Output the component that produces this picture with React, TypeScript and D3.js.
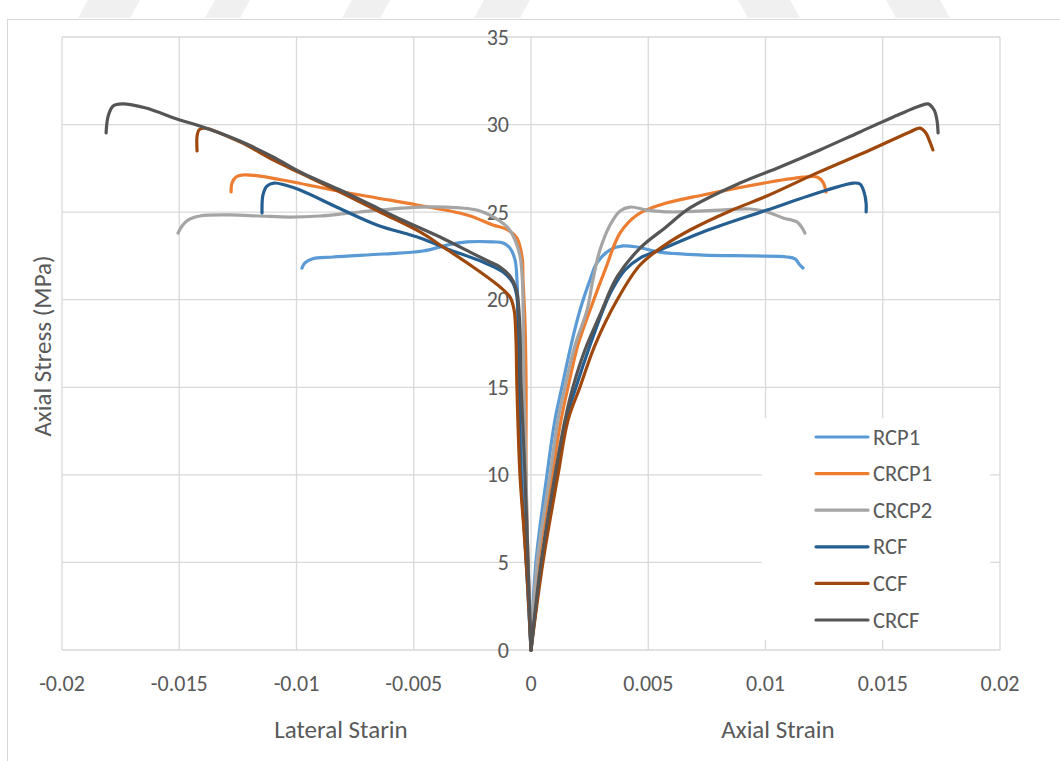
import React from "react";
import * as d3 from "d3";

type P = [number, number];

// [strain, stress MPa]
const RCP1_lateral: P[] = [[0,0],[-0.00021,5.14],[-0.00038,9.99],[-0.00051,15.02],[-0.00055,19.24],[-0.0006,21.13],[-0.00068,22.27],[-0.0009,22.95],[-0.00119,23.24],[-0.00162,23.3],[-0.00273,23.3],[-0.00358,23.12],[-0.00461,22.78],[-0.00631,22.61],[-0.00844,22.44],[-0.00934,22.33],[-0.00964,22.1],[-0.00977,21.81]];
const RCP1_axial: P[] = [[0,0],[0.00021,5.02],[0.00068,9.99],[0.00102,13.13],[0.00132,15.02],[0.00171,17.41],[0.00209,19.41],[0.00252,21.13],[0.00281,22.1],[0.00337,22.84],[0.00392,23.07],[0.00452,23.01],[0.0055,22.72],[0.00733,22.55],[0.00947,22.5],[0.01092,22.44],[0.01126,22.33],[0.01147,21.98],[0.0116,21.81]];

const CRCP1_lateral: P[] = [[0,0],[-0.00013,5.14],[-0.00021,9.99],[-0.00021,15.02],[-0.00026,18.84],[-0.00034,21.13],[-0.00038,22.44],[-0.0006,23.52],[-0.00098,23.98],[-0.00162,24.27],[-0.00273,24.84],[-0.00486,25.41],[-0.00657,25.81],[-0.00802,26.15],[-0.01015,26.72],[-0.01156,27.06],[-0.01228,27.12],[-0.01258,27.01],[-0.01275,26.66],[-0.01279,26.15]];
const CRCP1_axial: P[] = [[0,0],[0.0003,5.02],[0.0009,9.99],[0.00128,13.13],[0.00158,15.02],[0.002,17.41],[0.00252,19.41],[0.00316,21.7],[0.0038,23.81],[0.00452,24.84],[0.0055,25.41],[0.00733,25.98],[0.01019,26.72],[0.01177,27.01],[0.0122,27.01],[0.01245,26.72],[0.01258,26.15]];

const CRCP2_lateral: P[] = [[0,0],[-0.00013,5.14],[-0.00021,9.99],[-0.0003,15.02],[-0.00034,19.98],[-0.00038,21.41],[-0.00047,22.5],[-0.00068,23.41],[-0.00098,24.1],[-0.00154,24.67],[-0.00217,25.07],[-0.00303,25.24],[-0.00473,25.29],[-0.00644,25.12],[-0.00772,24.95],[-0.009,24.78],[-0.01028,24.72],[-0.01156,24.78],[-0.01284,24.84],[-0.01412,24.78],[-0.01463,24.55],[-0.01488,24.21],[-0.01505,23.81]];
const CRCP2_axial: P[] = [[0,0],[0.00026,5.02],[0.00081,9.99],[0.00115,13.13],[0.00145,15.02],[0.00188,17.41],[0.00239,19.41],[0.00264,21.13],[0.00294,22.84],[0.00337,24.27],[0.0038,25.07],[0.00422,25.29],[0.00495,25.12],[0.00593,25.01],[0.00806,25.12],[0.00934,25.18],[0.01006,25.01],[0.01075,24.67],[0.01134,24.44],[0.01156,24.1],[0.01168,23.81]];

const RCF_lateral: P[] = [[0,0],[-0.00013,3.43],[-0.00026,6.28],[-0.00043,9.99],[-0.00051,15.02],[-0.00055,18.27],[-0.0006,20.16],[-0.00077,20.95],[-0.00119,21.58],[-0.00205,22.15],[-0.00345,22.84],[-0.00473,23.52],[-0.00657,24.27],[-0.00802,25.12],[-0.00985,26.26],[-0.01049,26.55],[-0.01096,26.66],[-0.01126,26.49],[-0.01143,25.98],[-0.01147,24.95]];
const RCF_axial: P[] = [[0,0],[0.00047,5.02],[0.00107,9.99],[0.00149,13.13],[0.00192,15.02],[0.00252,17.41],[0.00307,19.41],[0.00345,20.55],[0.00401,21.7],[0.00465,22.38],[0.0055,22.84],[0.00733,23.87],[0.01006,25.12],[0.01262,26.26],[0.01373,26.66],[0.01403,26.61],[0.0142,26.15],[0.01429,25.52],[0.01429,25.01]];

const CCF_lateral: P[] = [[0,0],[-0.00013,3.43],[-0.0003,6.85],[-0.00047,9.99],[-0.0006,15.02],[-0.00064,17.7],[-0.00072,19.41],[-0.0009,20.16],[-0.00132,20.73],[-0.00247,21.87],[-0.00375,23.01],[-0.00473,23.87],[-0.00644,25.01],[-0.00814,26.15],[-0.00985,27.24],[-0.011,27.98],[-0.01241,29.01],[-0.01394,29.8],[-0.01416,29.69],[-0.01424,29.35],[-0.01424,28.49]];
const CCF_axial: P[] = [[0,0],[0.00051,5.02],[0.00115,9.99],[0.00158,13.13],[0.00209,15.02],[0.00273,17.41],[0.00367,19.98],[0.00465,21.98],[0.00571,23.12],[0.00678,23.98],[0.00849,25.07],[0.01006,25.92],[0.0122,27.24],[0.01446,28.55],[0.01616,29.58],[0.01659,29.8],[0.01684,29.52],[0.01701,29.01],[0.01714,28.55]];

const CRCF_lateral: P[] = [[0,0],[-0.00009,3.43],[-0.00017,6.85],[-0.00026,9.99],[-0.00034,12.56],[-0.00043,15.42],[-0.00047,18.27],[-0.00055,19.98],[-0.00064,20.67],[-0.0009,21.35],[-0.00132,21.87],[-0.00175,22.15],[-0.0026,22.72],[-0.00388,23.58],[-0.00559,24.61],[-0.00699,25.52],[-0.00814,26.26],[-0.00985,27.29],[-0.011,28.15],[-0.01241,29.06],[-0.01412,29.92],[-0.01497,30.26],[-0.01646,30.96],[-0.01744,31.18],[-0.01782,31.06],[-0.01803,30.49],[-0.01812,29.52]];
const CRCF_axial: P[] = [[0,0],[0.00043,5.02],[0.00102,9.99],[0.00145,13.13],[0.00179,15.02],[0.0023,17.13],[0.00294,19.13],[0.00367,21.3],[0.00465,22.95],[0.00571,24.1],[0.00678,25.24],[0.00891,26.66],[0.01062,27.58],[0.01232,28.55],[0.01403,29.58],[0.01574,30.6],[0.01646,31.0],[0.01693,31.18],[0.01719,30.83],[0.01731,30.26],[0.01736,29.52]];

const seriesNames = ["RCP1", "CRCP1", "CRCP2", "RCF", "CCF", "CRCF"];
const seriesColors = ["#5b9bd5", "#ed7d31", "#a5a5a5", "#255e91", "#9e480e", "#555555"];
const lateralData = [RCP1_lateral, CRCP1_lateral, CRCP2_lateral, RCF_lateral, CCF_lateral, CRCF_lateral];
const axialData = [RCP1_axial, CRCP1_axial, CRCP2_axial, RCF_axial, CCF_axial, CRCF_axial];

const xTicks = [-0.02, -0.015, -0.01, -0.005, 0, 0.005, 0.01, 0.015, 0.02];
const xTickLabels = ["-0.02", "-0.015", "-0.01", "-0.005", "0", "0.005", "0.01", "0.015", "0.02"];
const yTicks = [0, 5, 10, 15, 20, 25, 30, 35];

const FONT = "Carlito, 'Liberation Sans Narrow', 'Liberation Sans', sans-serif";
const TXT = "#595959";

export default function App() {
  const W = 1060, H = 761;
  const x = d3.scaleLinear().domain([-0.02, 0.02]).range([62, 1000]);
  const y = d3.scaleLinear().domain([0, 35]).range([650, 37]);
  const line = d3.line<P>().x(d => x(d[0])).y(d => y(d[1])).curve(d3.curveCatmullRom.alpha(0.5));

  const legendX = 762, legendY = 418, legendW = 228, legendH = 222;
  const rowY = (i: number) => 437 + i * 36.6;

  const bands = [
    [78, 130, "/"], [205, 240, "/"], [342, 380, "/"], [474, 520, "/"], [738, 790, "\\"], [886, 940, "\\"],
  ] as const;

  return (
    <svg width={W} height={H} style={{ position: "absolute", left: 0, top: 0 }} fontFamily={FONT}>
      <rect x={0} y={0} width={W} height={H} fill="#fff" />
      {bands.map((b, i) => {
        const [a, c, dir] = b;
        const s = 10;
        const pts = dir === "/"
          ? `${a + s},0 ${c + s},0 ${c},18 ${a},18`
          : `${a},0 ${c},0 ${c + s},18 ${a + s},18`;
        return <polygon key={i} points={pts} fill="#f0f0f0" />;
      })}
      <rect x={7.5} y={19.5} width={W} height={H} fill="#fff" stroke="#d9d9d9" strokeWidth={1} />
      {/* gridlines */}
      {xTicks.map((t, i) => (
        <line key={"vx" + i} x1={x(t)} x2={x(t)} y1={y(35)} y2={y(0)} stroke="#d9d9d9" strokeWidth={1.3} />
      ))}
      {yTicks.map((t, i) => (
        <line key={"hy" + i} x1={x(-0.02)} x2={x(0.02)} y1={y(t)} y2={y(t)} stroke="#d9d9d9" strokeWidth={1.3} />
      ))}
      {/* y tick labels */}
      {yTicks.map((t, i) => (
        <text key={"yl" + i} x={x(0) - 22} y={y(t)} textAnchor="end" dominantBaseline="central" fontSize={22} fill={TXT}>
          {t}
        </text>
      ))}
      {/* x tick labels */}
      {xTicks.map((t, i) => (
        <text key={"xl" + i} x={x(t)} y={683} textAnchor="middle" dominantBaseline="central" fontSize={22} fill={TXT}>
          {xTickLabels[i]}
        </text>
      ))}
      {/* series */}
      {seriesNames.map((n, i) => (
        <g key={n}>
          <path d={line(lateralData[i]) || ""} fill="none" stroke={seriesColors[i]} strokeWidth={3.2} strokeLinecap="round" strokeLinejoin="round" />
          <path d={line(axialData[i]) || ""} fill="none" stroke={seriesColors[i]} strokeWidth={3.2} strokeLinecap="round" strokeLinejoin="round" />
        </g>
      ))}
      {/* axis titles */}
      <text x={341} y={729} textAnchor="middle" dominantBaseline="central" fontSize={25} fill={TXT}>Lateral Starin</text>
      <text x={778} y={729} textAnchor="middle" dominantBaseline="central" fontSize={25} fill={TXT}>Axial Strain</text>
      <text transform={`translate(42,346) rotate(-90)`} textAnchor="middle" dominantBaseline="central" fontSize={25} fill={TXT}>Axial Stress (MPa)</text>
      {/* legend */}
      <rect x={legendX} y={legendY} width={legendW} height={legendH} fill="#fff" />
      {seriesNames.map((n, i) => (
        <g key={"lg" + n}>
          <line x1={816} x2={868} y1={rowY(i)} y2={rowY(i)} stroke={seriesColors[i]} strokeWidth={3.2} strokeLinecap="round" />
          <text x={873} y={rowY(i)} dominantBaseline="central" fontSize={22.5} fill={TXT}>{n}</text>
        </g>
      ))}
    </svg>
  );
}
